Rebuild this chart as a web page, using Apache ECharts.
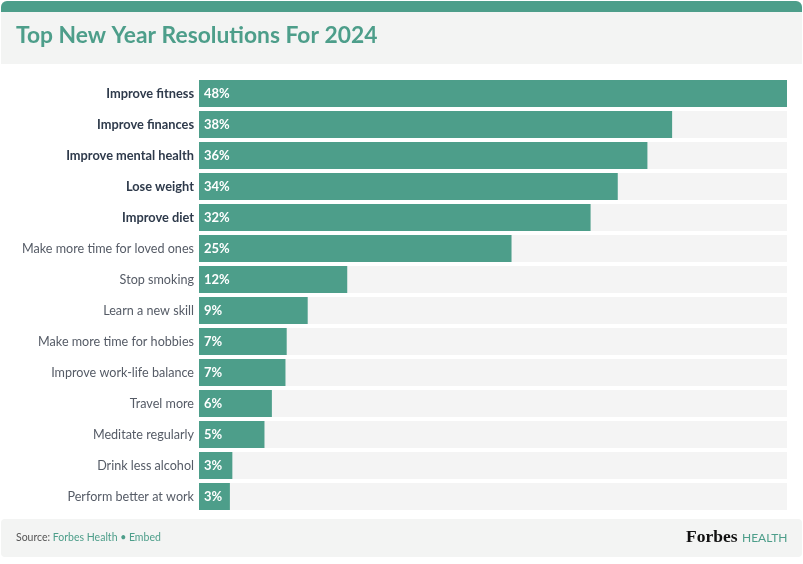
<!DOCTYPE html>
<html>
<head>
<meta charset="utf-8">
<script src="https://cdn.jsdelivr.net/npm/echarts@6/dist/echarts.min.js"></script>
<style>
html,body{margin:0;padding:0;background:#fff;}
#c{width:803px;height:564px;}
</style>
</head>
<body>
<div id="c"></div>
<script>
const categories = [
  "Improve fitness", "Improve finances", "Improve mental health", "Lose weight",
  "Improve diet", "Make more time for loved ones", "Stop smoking", "Learn a new skill",
  "Make more time for hobbies", "Improve work-life balance", "Travel more",
  "Meditate regularly", "Drink less alcohol", "Perform better at work"
];
const values = [47.6, 38.3, 36.3, 33.9, 31.7, 25.3, 12.0, 8.8, 7.1, 7.0, 5.9, 5.3, 2.7, 2.5];
const boldCount = 5;
const titleText = "Top New Year Resolutions For 2024";

const FONT = "Lato, 'Noto Sans', sans-serif";
const GREEN = "#4d9e8a";
const chart = echarts.init(document.getElementById('c'), null, {renderer: 'canvas'});
chart.setOption({
  backgroundColor: '#ffffff',
  animation: false,
  graphic: [
    {type: 'rect', shape: {x: 1, y: 1, width: 801, height: 63, r: [6, 6, 0, 0]}, style: {fill: '#f3f4f3'}, z: -10},
    {type: 'rect', shape: {x: 1, y: 1, width: 801, height: 11, r: [6, 6, 0, 0]}, style: {fill: GREEN}, z: -9},
    {type: 'text', left: 16, top: 24, style: {text: titleText, fill: GREEN, font: "bold 22.8px " + FONT}},
    {type: 'rect', shape: {x: 1, y: 519, width: 801, height: 38, r: 4}, style: {fill: '#f3f4f3'}, z: -10},
    {type: 'text', left: 16, top: 532, style: {
      rich: {a: {fill: '#555', font: "10.5px " + FONT}, b: {fill: GREEN, font: "10.5px " + FONT}},
      text: "{a|Source: }{b|Forbes Health • Embed}"}},
    {type: 'text', left: 686, top: 528, style: {text: "Forbes", fill: '#111', font: "bold 17.5px 'Liberation Serif', 'DejaVu Serif', serif"}},
    {type: 'text', left: 742, top: 532, style: {text: "HEALTH", fill: GREEN, font: "12px " + FONT}}
  ],
  grid: {left: 199, right: 16, top: 78, height: 434},
  xAxis: {type: 'value', min: 0, max: 47.6, show: false},
  yAxis: {
    type: 'category', data: categories, inverse: true,
    axisLine: {show: false}, axisTick: {show: false},
    axisLabel: {
      margin: 5, fontSize: 12.7, fontFamily: FONT,
      formatter: (v, i) => i < boldCount ? '{b|' + v + '}' : '{n|' + v + '}',
      rich: {
        b: {fontWeight: 'bold', color: '#2e3a4b', fontSize: 12.8, fontFamily: FONT},
        n: {color: '#555b66', fontSize: 12.6, fontFamily: FONT}
      }
    }
  },
  series: [{
    type: 'bar', data: values, barWidth: 27,
    itemStyle: {color: GREEN},
    showBackground: true,
    backgroundStyle: {color: '#f4f4f4'},
    label: {
      show: true, position: 'insideLeft', distance: 5,
      formatter: p => Math.round(p.value) + '%',
      color: '#fff', fontWeight: 'bold', fontSize: 13, fontFamily: FONT
    }
  }]
});
</script>
</body>
</html>
